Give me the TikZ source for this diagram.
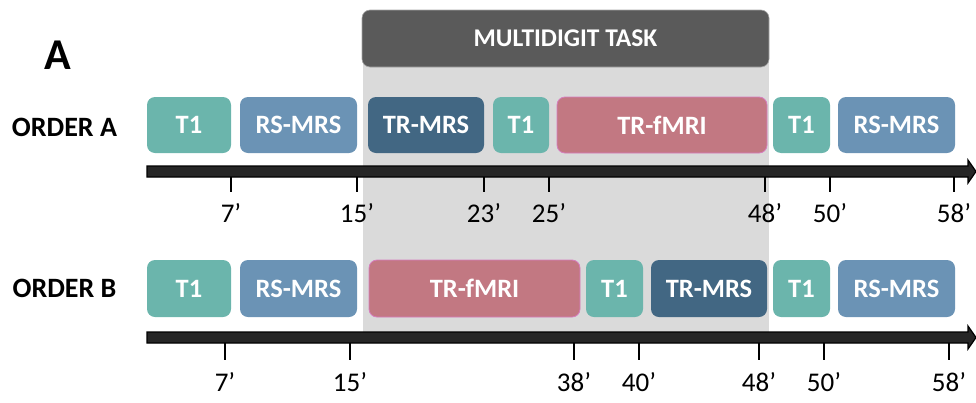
\documentclass[tikz,border=0pt]{standalone}
\usepackage{fontspec}
\setmainfont{Carlito}
\definecolor{tone}{HTML}{6BB5AC}
\definecolor{rsmrs}{HTML}{6B93B5}
\definecolor{trmrs}{HTML}{426783}
\definecolor{fmri}{HTML}{C27882}
\definecolor{fmriedge}{HTML}{D67DBE}
\definecolor{taskbg}{HTML}{DADADA}
\definecolor{taskhead}{HTML}{5A5A5A}
\definecolor{axisfill}{HTML}{262626}
\tikzset{
  block/.style={rounded corners=8pt, inner sep=0pt, text=white,
    font=\fontsize{26.5}{26.5}\selectfont\bfseries},
  tblock/.style={block, fill=tone, minimum width=#1},
  rblock/.style={block, fill=rsmrs, minimum width=117pt},
  mblock/.style={block, fill=trmrs, minimum width=116pt},
  fblock/.style={block, fill=fmri, draw=fmriedge, line width=0.8pt, minimum width=#1},
  rowA/.style={minimum height=56pt},
  rowB/.style={minimum height=57pt},
  axisbar/.style={fill=axisfill, draw=black, line width=1.2pt, line join=miter},
  tickmark/.style={draw=black, line width=2pt},
  ticklabel/.style={font=\fontsize{27}{27}\selectfont, inner sep=0pt},
  rowlabel/.style={font=\fontsize{28}{28}\selectfont\bfseries, inner sep=0pt},
}
\begin{document}
\begin{tikzpicture}[x=1pt,y=-1pt]
\useasboundingbox (0,0) rectangle (976,402);

% task period shading and header
\fill[taskbg] (363,60) rectangle (769,332);
\node[block, fill=taskhead, draw=gray!70, line width=0.6pt,
      font=\fontsize{25.5}{25.5}\selectfont\bfseries,
      minimum width=407pt, minimum height=57pt] (task) at (565.5,38.5) {MULTIDIGIT TASK};

% panel letter
\node[font=\fontsize{44}{44}\selectfont\bfseries, inner sep=0pt] (panel) at (58,55) {A};

% ---------------- order A ----------------
\node[rowlabel] (ordA) at (64.5,127) {ORDER A};
\node[tblock=84pt, rowA] (a1) at (189,125) {T1};
\node[rblock, rowA] (a2) at (298.5,125) {RS-MRS};
\node[mblock, rowA] (a3) at (426,125) {TR-MRS};
\node[tblock=56pt, rowA] (a4) at (521,125) {T1};
\node[fblock=210pt, rowA] (a5) at (662,125) {TR-fMRI};
\node[tblock=57pt, rowA] (a6) at (801.5,125) {T1};
\node[rblock, rowA] (a7) at (896.5,125) {RS-MRS};

\draw[axisbar] (147,166) -- (968,166) -- (968,160) -- (976,171.5) -- (968,183)
  -- (968,177) -- (147,177) -- cycle;

\foreach \x/\t [count=\i] in {231/7, 357/15, 484/23, 549/25, 765/48, 830/50, 954/58}{
  \coordinate (ta\i) at (\x,177);
  \draw[tickmark] (ta\i) -- ++(0,15);
  \node[ticklabel] (la\i) at (\x,213) {\t’};
}

% ---------------- order B ----------------
\node[rowlabel] (ordB) at (64.5,288) {ORDER B};
\node[tblock=84pt, rowB] (b1) at (189,288.5) {T1};
\node[rblock, rowB] (b2) at (298.5,288.5) {RS-MRS};
\node[fblock=211pt, rowB] (b3) at (474.5,288.5) {TR-fMRI};
\node[tblock=57pt, rowB] (b4) at (614.5,288.5) {T1};
\node[mblock, rowB] (b5) at (709,288.5) {TR-MRS};
\node[tblock=57pt, rowB] (b6) at (801.5,288.5) {T1};
\node[rblock, rowB] (b7) at (896.5,288.5) {RS-MRS};

\draw[axisbar] (147,332) -- (968,332) -- (968,326) -- (976,337.5) -- (968,349)
  -- (968,343) -- (147,343) -- cycle;

\foreach \x/\t [count=\i] in {225/7, 350/15, 574/38, 639/40, 759/48, 824/50, 949/58}{
  \coordinate (tb\i) at (\x,343);
  \draw[tickmark] (tb\i) -- ++(0,17);
  \node[ticklabel] (lb\i) at (\x,382) {\t’};
}
\end{tikzpicture}
\end{document}
